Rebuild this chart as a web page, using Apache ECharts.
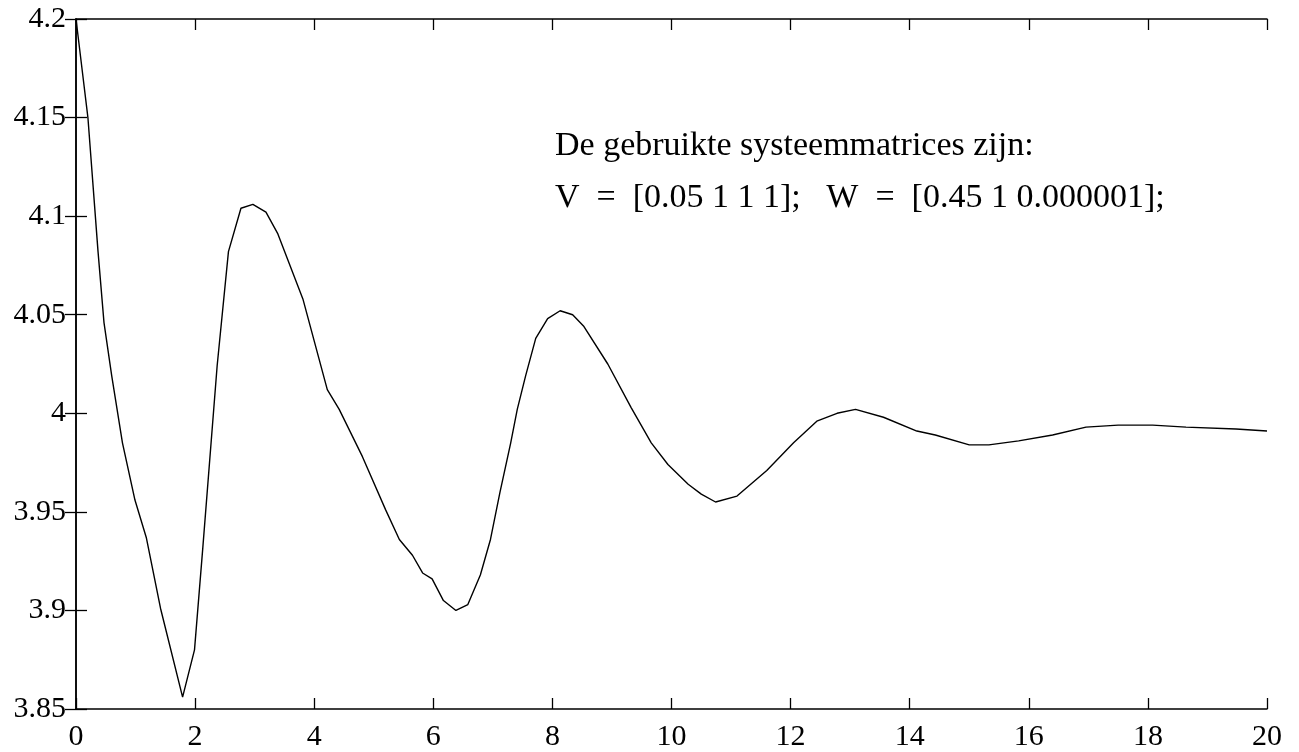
<!DOCTYPE html>
<html>
<head>
<meta charset="utf-8">
<title>systeemmatrices</title>
<script src="https://cdn.jsdelivr.net/npm/echarts@6/dist/echarts.min.js"></script>
<style>
  html, body { margin: 0; padding: 0; background: #fff; }
  #chart { width: 1299px; height: 752px; }
</style>
</head>
<body>
<div id="chart"></div>
<script>
// tijd (x) en uitgangswaarde (y)
const tijd = [0, 0.2, 0.37, 0.47, 0.6, 0.78, 0.99, 1.18, 1.42, 1.79, 1.99, 2.13, 2.37, 2.56, 2.77, 2.97,
  3.19, 3.39, 3.81, 4.22, 4.42, 4.81, 5.2, 5.43, 5.65, 5.82, 5.98, 6.17, 6.38, 6.58, 6.79, 6.96,
  7.12, 7.3, 7.41, 7.55, 7.72, 7.92, 8.13, 8.34, 8.53, 8.93, 9.32, 9.66, 9.94, 10.28, 10.5, 10.74,
  11.1, 11.6, 12.05, 12.44, 12.78, 13.09, 13.56, 14.12, 14.43, 15.0, 15.33, 15.83, 16.4, 16.96,
  17.5, 18.08, 18.64, 19.48, 20]
const uitgang = [4.2, 4.15, 4.082, 4.046, 4.019, 3.985, 3.956, 3.937, 3.901, 3.856, 3.88, 3.932, 4.024, 4.082, 4.104, 4.106,
  4.102, 4.091, 4.058, 4.012, 4.002, 3.978, 3.951, 3.936, 3.928, 3.919, 3.916, 3.905, 3.9, 3.903, 3.918, 3.936,
  3.96, 3.985, 4.002, 4.019, 4.038, 4.048, 4.052, 4.05, 4.044, 4.025, 4.003, 3.985, 3.974, 3.964, 3.959, 3.955,
  3.958, 3.971, 3.985, 3.996, 4.0, 4.002, 3.998, 3.991, 3.989, 3.984, 3.984, 3.986, 3.989, 3.993,
  3.994, 3.994, 3.993, 3.992, 3.991]
const xTicks = [0, 2, 4, 6, 8, 10, 12, 14, 16, 18, 20]
const yTicks = [3.85, 3.9, 3.95, 4, 4.05, 4.1, 4.15, 4.2]
const tekstRegel1 = "De gebruikte systeemmatrices zijn:"
const tekstRegel2 = "V  =  [0.05 1 1 1];   W  =  [0.45 1 0.000001];"

const chart = echarts.init(document.getElementById("chart"))
const font = "'Liberation Serif', 'DejaVu Serif', serif"

const lijn = { show: true, lineStyle: { color: "#000", width: 1.5 } }
const tick = { show: true, inside: true, length: 11, lineStyle: { color: "#000", width: 1.3 } }

const options = {
  animation: false,
  backgroundColor: "#fff",
  grid: { left: 76, right: 32, top: 19, bottom: 41 },
  xAxis: [
    {
      type: "value",
      min: xTicks[0],
      max: xTicks[xTicks.length - 1],
      interval: 2,
      position: "bottom",
      axisLine: lijn,
      axisTick: tick,
      splitLine: { show: false },
      axisLabel: {
        color: "#000", fontFamily: font, fontSize: 30, margin: 13,
        formatter: (v) => (xTicks.includes(v) ? String(v) : "")
      }
    },
    {
      type: "value",
      min: xTicks[0],
      max: xTicks[xTicks.length - 1],
      interval: 2,
      position: "top",
      axisLine: lijn,
      axisTick: tick,
      splitLine: { show: false },
      axisLabel: { show: false }
    }
  ],
  yAxis: [
    {
      type: "value",
      min: yTicks[0],
      max: yTicks[yTicks.length - 1],
      interval: 0.05,
      position: "left",
      axisLine: lijn,
      axisTick: tick,
      splitLine: { show: false },
      axisLabel: {
        color: "#000", fontFamily: font, fontSize: 30, margin: 10,
        formatter: (v) => String(Math.round(v * 100) / 100)
      }
    },
    {
      type: "value",
      min: yTicks[0],
      max: yTicks[yTicks.length - 1],
      interval: 0.05,
      position: "right",
      axisLine: lijn,
      axisTick: tick,
      splitLine: { show: false },
      axisLabel: { show: false }
    }
  ],
  graphic: [
    {
      type: "text",
      left: 555,
      top: 129,
      style: { text: tekstRegel1, fill: "#000", font: "34px " + font }
    },
    {
      type: "text",
      left: 555,
      top: 181,
      style: { text: tekstRegel2, fill: "#000", font: "34px " + font }
    }
  ],
  series: [
    {
      type: "line",
      xAxisIndex: 0,
      yAxisIndex: 0,
      showSymbol: false,
      smooth: false,
      lineStyle: { color: "#000", width: 1.4 },
      data: tijd.map((t, i) => [t, uitgang[i]])
    }
  ]
}

chart.setOption(options)
</script>
</body>
</html>
